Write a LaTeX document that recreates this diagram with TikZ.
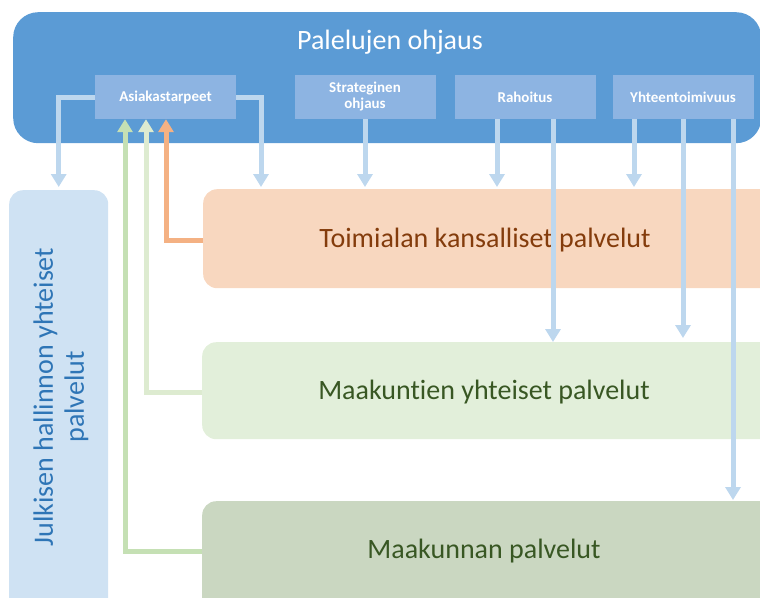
\documentclass[tikz,border=0pt]{standalone}
\usepackage{fontspec}
\setmainfont{Carlito}[Ligatures=NoCommon]
\usetikzlibrary{arrows.meta}

\definecolor{mainblue}{HTML}{5B9BD5}
\definecolor{subblue}{HTML}{8DB4E2}
\definecolor{flowblue}{HTML}{BDD7EE}
\definecolor{sideblue}{HTML}{CFE2F3}
\definecolor{sidetext}{HTML}{2E75B6}
\definecolor{peach}{HTML}{F8D7BF}
\definecolor{peachtext}{HTML}{843C0C}
\definecolor{palegreen}{HTML}{E2EFDA}
\definecolor{sagegreen}{HTML}{CAD7C1}
\definecolor{greentext}{HTML}{385723}
\definecolor{flowgreen}{HTML}{C5E0B4}
\definecolor{flowpale}{HTML}{DDEBD0}
\definecolor{floworange}{HTML}{F4B183}

\tikzset{
  subbox/.style={fill=subblue, draw=none, minimum width=141pt, minimum height=44pt,
    inner sep=0pt, text=white, font=\fontsize{15}{16}\selectfont\bfseries, align=center},
  servicebox/.style={draw=none, rounded corners=14pt, inner sep=0pt, anchor=north west},
  bigtext/.style={font=\fontsize{28}{31}\selectfont},
  flow/.style={line width=5pt, -{Triangle[width=15pt,length=13pt]}},
  bluearrow/.style={flow, draw=flowblue},
}

\begin{document}
\begin{tikzpicture}[x=1pt, y=-1pt]
  \useasboundingbox (0,0) rectangle (760,597);
  \clip (0,0) rectangle (760,597);

  % steering block
  \node[fill=mainblue, rounded corners=25pt, minimum width=748pt, minimum height=131pt,
        inner sep=0pt, anchor=north west] (ohj) at (13,12) {};
  \node[text=white, bigtext] (title) at (390,42) {Palelujen ohjaus};

  \node[subbox] (asia) at (165.5,97) {Asiakastarpeet};
  \node[subbox] (strat) at (365,97) {Strateginen\\ohjaus};
  \node[subbox] (rah) at (525,97) {Rahoitus};
  \node[subbox] (yht) at (683,97) {Yhteentoimivuus};

  % service layers
  \node[servicebox, fill=sideblue, minimum width=99pt, minimum height=430pt] (jul) at (9,190) {};
  \node[rotate=90, text=sidetext, align=center, bigtext]
       (jultext) at (61,397) {Julkisen hallinnon yhteiset\\palvelut};

  \node[servicebox, fill=peach, minimum width=580pt, minimum height=99pt] (toim) at (203,189) {};
  \node[text=peachtext, bigtext] (toimtext) at (485,240) {Toimialan kansalliset palvelut};

  \node[servicebox, fill=palegreen, minimum width=580pt, minimum height=97pt] (mky) at (202,342) {};
  \node[text=greentext, bigtext] (mkytext) at (484,392) {Maakuntien yhteiset palvelut};

  \node[servicebox, fill=sagegreen, minimum width=580pt, minimum height=120pt] (mkp) at (202,501) {};
  \node[text=greentext, bigtext] (mkptext) at (484,551) {Maakunnan palvelut};

  % customer needs flowing up
  \draw[flow, draw=flowgreen] (mkp.west |- mkptext) -| ([xshift=-40.5pt]asia.south);
  \draw[flow, draw=flowpale] (mky.west |- mkytext) -| ([xshift=-19.5pt]asia.south);
  \draw[flow, draw=floworange] (toim.west |- toimtext) -| ([xshift=0.5pt]asia.south);

  % steering flowing down
  \draw[bluearrow, shorten >=3pt] (asia.west) -| (jul.north);
  \draw[bluearrow, shorten >=2pt] (asia.east) -| (toim.north -| 261,0);
  \draw[bluearrow, shorten >=2pt] (strat.south) -- (strat.south |- toim.north);
  \draw[bluearrow, shorten >=2pt] ([xshift=-28pt]rah.south) -- ([xshift=-28pt]rah.south |- toim.north);
  \draw[bluearrow] ([xshift=28pt]rah.south) -- ([xshift=28pt]rah.south |- mky.north);
  \draw[bluearrow, shorten >=2pt] ([xshift=-49pt]yht.south) -- ([xshift=-49pt]yht.south |- toim.north);
  \draw[bluearrow, shorten >=4pt] (yht.south) -- (yht.south |- mky.north);
  \draw[bluearrow, shorten >=1pt] ([xshift=50pt]yht.south) -- ([xshift=50pt]yht.south |- mkp.north);
\end{tikzpicture}
\end{document}
